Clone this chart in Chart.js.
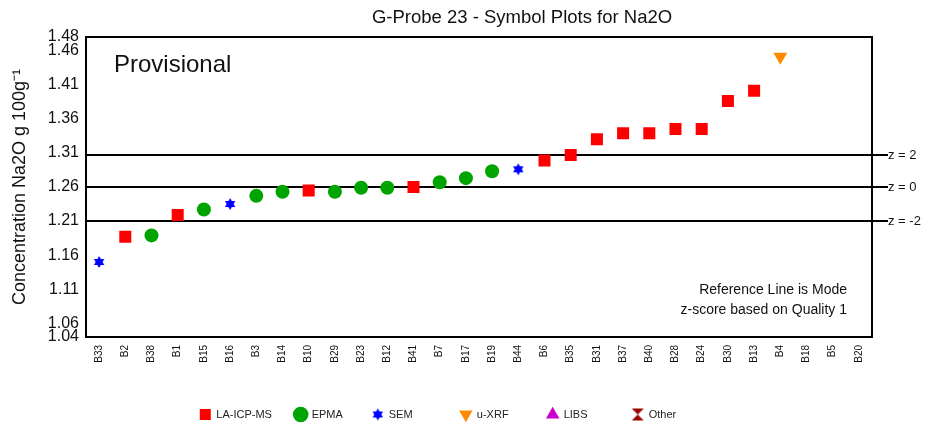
<!DOCTYPE html>
<html>
<head>
<meta charset="utf-8">
<script src="https://cdn.jsdelivr.net/npm/chart.js@4"></script>
<style>
  html, body { margin: 0; padding: 0; background: #fff; }
  #chart { display: block; }
</style>
</head>
<body>
<canvas id="chart" width="927" height="430"></canvas>
<script>
// Sample ids along the x axis (sorted by value)
const categories = ['B33', 'B2', 'B38', 'B1', 'B15', 'B16', 'B3', 'B14', 'B10', 'B29',
    'B23', 'B12', 'B41', 'B7', 'B17', 'B19', 'B44', 'B6', 'B35', 'B31',
    'B37', 'B40', 'B28', 'B24', 'B30', 'B13', 'B4', 'B18', 'B5', 'B20'];

// Na2O value for each sample (null = no result)
const values = [1.150, 1.187, 1.189, 1.219, 1.227, 1.235, 1.247, 1.253, 1.255, 1.253,
    1.259, 1.259, 1.260, 1.267, 1.273, 1.283, 1.286, 1.299, 1.307, 1.330,
    1.339, 1.339, 1.345, 1.345, 1.386, 1.401, 1.451, null, null, null];

// Analytical method for each sample
const methods = ['SEM', 'LA-ICP-MS', 'EPMA', 'LA-ICP-MS', 'EPMA', 'SEM', 'EPMA', 'EPMA', 'LA-ICP-MS', 'EPMA',
    'EPMA', 'EPMA', 'LA-ICP-MS', 'EPMA', 'EPMA', 'EPMA', 'SEM', 'LA-ICP-MS', 'LA-ICP-MS', 'LA-ICP-MS',
    'LA-ICP-MS', 'LA-ICP-MS', 'LA-ICP-MS', 'LA-ICP-MS', 'LA-ICP-MS', 'LA-ICP-MS', 'u-XRF', null, null, null];

const methodNames = ['LA-ICP-MS', 'EPMA', 'SEM', 'u-XRF', 'LIBS', 'Other'];

const yTicks = [1.04, 1.06, 1.11, 1.16, 1.21, 1.26, 1.31, 1.36, 1.41, 1.46, 1.48];

// Reference line (mode) and z = +/-2 lines
const zLines = [
    { value: 1.307, label: 'z = 2' },
    { value: 1.260, label: 'z = 0' },
    { value: 1.210, label: 'z = -2' }
];

const FONT = "'Liberation Sans', Arial, sans-serif";
Chart.defaults.font.family = FONT;
Chart.defaults.color = '#111';

// extra spaces after each legend entry so the columns spread like the original
const legendGaps = [5, 7, 13, 10, 12, 0];

// Six pointed star drawn into a small canvas
function hexagram(color, r) {
    const c = document.createElement('canvas');
    const s = Math.ceil(r * 2) + 2;
    c.width = c.height = s;
    const g = c.getContext('2d');
    g.fillStyle = color;
    [-90, 90].forEach(start => {
        g.beginPath();
        for (let i = 0; i < 3; i++) {
            const a = (start + i * 120) * Math.PI / 180;
            g.lineTo(s / 2 + r * Math.cos(a), s / 2 + r * Math.sin(a));
        }
        g.closePath();
        g.fill();
    });
    return c;
}

// Hourglass marker (two triangles tip to tip)
function hourglass(color, r) {
    const c = document.createElement('canvas');
    const s = Math.ceil(r * 2) + 2;
    c.width = c.height = s;
    const g = c.getContext('2d');
    const m = s / 2;
    g.fillStyle = color;
    g.beginPath();
    g.moveTo(m - r, m - r); g.lineTo(m + r, m - r); g.lineTo(m, m); g.closePath();
    g.moveTo(m - r, m + r); g.lineTo(m + r, m + r); g.lineTo(m, m); g.closePath();
    g.fill();
    return c;
}

const styles = {
    'LA-ICP-MS': { color: '#ff0000', pointStyle: 'rect', radius: 8.5, rotation: 0 },
    'EPMA': { color: '#00a400', pointStyle: 'circle', radius: 7, rotation: 0 },
    'SEM': { color: '#0000ff', pointStyle: hexagram('#0000ff', 6), radius: 6, rotation: 0 },
    'u-XRF': { color: '#ff8a00', pointStyle: 'triangle', radius: 8, rotation: 180 },
    'LIBS': { color: '#cc00cc', pointStyle: 'triangle', radius: 8, rotation: 0 },
    'Other': { color: '#990000', pointStyle: hourglass('#990000', 6), radius: 6, rotation: 0 }
};

const datasets = methodNames.map(name => ({
    label: name,
    data: values.map((v, i) => methods[i] === name ? v : null),
    showLine: false,
    pointStyle: styles[name].pointStyle,
    pointRadius: styles[name].radius,
    pointHoverRadius: styles[name].radius,
    pointRotation: styles[name].rotation,
    backgroundColor: styles[name].color,
    borderColor: styles[name].color,
    borderWidth: 0
}));

// Title, reference lines, frame and annotation texts
const decorations = {
    id: 'decorations',
    beforeDatasetsDraw(chart) {
        const { ctx, chartArea: a, scales: { y } } = chart;
        ctx.save();
        ctx.fillStyle = '#111';
        ctx.textBaseline = 'middle';
        ctx.textAlign = 'center';
        ctx.font = '18.5px ' + FONT;
        ctx.fillText('G-Probe 23 - Symbol Plots for Na2O', a.left + 436, 18);

        ctx.strokeStyle = '#000';
        ctx.lineWidth = 2;
        ctx.font = '13px ' + FONT;
        ctx.textAlign = 'left';
        zLines.forEach(z => {
            const py = Math.round(y.getPixelForValue(z.value));
            ctx.beginPath();
            ctx.moveTo(a.left, py);
            ctx.lineTo(a.right + 16, py);
            ctx.stroke();
            ctx.fillText(z.label, a.right + 16, py);
        });
        ctx.strokeRect(a.left, a.top, a.right - a.left, a.bottom - a.top);

        ctx.font = '24px ' + FONT;
        ctx.fillText('Provisional', a.left + 28, a.top + 28);
        ctx.font = '14px ' + FONT;
        ctx.textAlign = 'right';
        ctx.fillText('Reference Line is Mode', a.right - 25, a.bottom - 47);
        ctx.fillText('z-score based on Quality 1', a.right - 25, a.bottom - 27);
        ctx.restore();
    }
};

new Chart(document.getElementById('chart'), {
    type: 'line',
    data: { labels: categories, datasets: datasets },
    plugins: [decorations],
    options: {
        responsive: false,
        animation: false,
        devicePixelRatio: 1,
        layout: { padding: { left: 4, right: 55, top: 37, bottom: 0 } },
        plugins: {
            tooltip: { enabled: false },
            title: { display: false },
            legend: {
                position: 'bottom',
                labels: {
                    usePointStyle: true,
                    boxWidth: 11,
                    boxHeight: 11,
                    padding: 8,
                    color: '#222',
                    font: { size: 11 },
                    generateLabels(chart) {
                        const items = Chart.defaults.plugins.legend.labels.generateLabels(chart);
                        items.forEach((item, i) => { item.text += ' '.repeat(legendGaps[i]); });
                        return items;
                    }
                }
            }
        },
        scales: {
            x: {
                offset: true,
                grid: { display: false, drawTicks: false },
                border: { display: false },
                ticks: {
                    autoSkip: false,
                    minRotation: 90,
                    maxRotation: 90,
                    padding: 8,
                    font: { size: 10 },
                    color: '#111'
                },
                afterFit(scale) { scale.height = 64; }
            },
            y: {
                min: 1.04,
                max: 1.48,
                grid: { display: false, drawTicks: false },
                border: { display: false },
                afterBuildTicks(scale) {
                    scale.ticks = yTicks.map(v => ({ value: v }));
                },
                ticks: {
                    padding: 7,
                    font: { size: 16 },
                    color: '#111',
                    callback: v => Number(v).toFixed(2)
                },
                title: {
                    display: true,
                    text: 'Concentration Na2O g 100g\u207B\u00B9',
                    font: { size: 18 },
                    color: '#111',
                    padding: { top: 5, bottom: 0 }
                },
                afterFit(scale) { scale.width = 82; }
            }
        }
    }
});
</script>
</body>
</html>
